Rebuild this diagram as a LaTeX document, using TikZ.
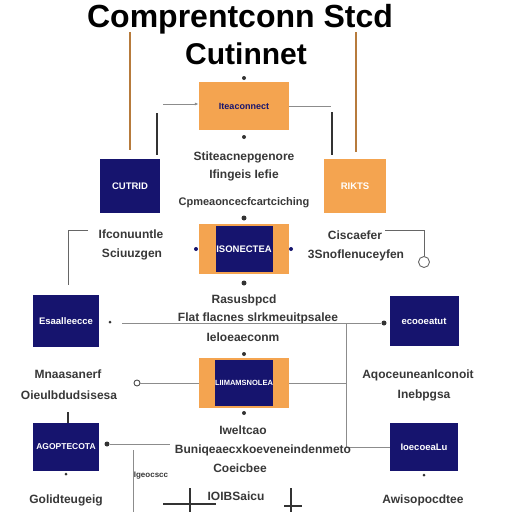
\documentclass[tikz,border=0pt]{standalone}
\usepackage{fontspec}
\setmainfont{Liberation Sans}
\usetikzlibrary{arrows.meta}
\definecolor{navy}{RGB}{22,20,110}
\definecolor{amber}{RGB}{244,164,80}
\tikzset{
  navybox/.style={draw=none, fill=navy, minimum width=#1, minimum height=52pt, inner sep=0pt,
    text=white, font=\fontsize{9.5}{10}\selectfont\bfseries},
  navybox/.default=64pt,
  amberbox/.style={draw=none, fill=amber, minimum width=90pt, minimum height=48pt, inner sep=0pt,
    text=navy, font=\fontsize{9}{10}\selectfont\bfseries},
  label/.style={font=\fontsize{12}{13}\selectfont\bfseries, text=black!78, inner sep=0pt},
  wire/.style={draw=black!45, line width=0.8pt},
  post/.style={draw=black!80, line width=1.6pt},
  blob/.style={circle, fill=black!80, inner sep=0pt, minimum size=5pt}
}
\begin{document}
\begin{tikzpicture}[x=1pt, y=-1pt]
  \useasboundingbox[fill=white] (0,0) rectangle (512,512);

  % title
  \node[font=\fontsize{32}{36}\selectfont\bfseries] (title) at (240,19) {Comprentconn Stcd};
  \node[font=\fontsize{30}{32}\selectfont\bfseries] (subtitle) at (246,54) {Cutinnet};

  % orange feeds from the title
  \coordinate (feedL) at (130,32); \coordinate (feedR) at (356,32);
  \draw[amber!75!black, line width=1.8pt] (feedL) -- (130,150);
  \draw[amber!75!black, line width=1.8pt] (feedR) -- (356,152);

  % top row
  \node[amberbox] (core) at (244,106) {Iteaconnect};
  \node[navybox=60pt, minimum height=54pt] (cutrid) at (130,186) {CUTRID};
  \node[navybox=62pt, minimum height=54pt, fill=amber] (rikts) at (355,186) {RIKTS};
  \node[blob, minimum size=4pt] (coretop) at (244,78) {};
  \node[blob, minimum size=4pt] (corebot) at (244,137) {};
  \coordinate (coreinL) at (163,104); \coordinate (coreoutR) at (331,106);
  \draw[wire, -{Latex[length=4pt]}] (coreinL) -- (core.west |- coreinL);
  \draw[wire] (core.east |- coreoutR) -- (coreoutR);
  \draw[post] (157,113) -- (157,155);
  \draw[post] (332,112) -- (332,155);
  \node[label] (t1) at (244,157) {Stiteacnepgenore};
  \node[label] (t2) at (244,175) {Ifingeis Iefie};
  \node[label, font=\fontsize{11}{12}\selectfont\bfseries] (t3) at (244,203) {Cpmeaoncecfcartciching};

  % middle row
  \node[amberbox, minimum height=50pt] (hub) at (244,249) {};
  \node[navybox=57pt, minimum height=46pt] (hubin) at (244,249) {ISONECTEA};
  \node[blob] (hubtop) at (244,218) {};
  \node[blob] (hubbot) at (244,283) {};
  \node[blob, fill=navy, minimum size=4pt] (hubL) at (196,249) {};
  \node[blob, fill=navy, minimum size=4pt] (hubR) at (291,249) {};
  \node[label] (t4) at (131,234) {Ifconuuntle};
  \node[label] (t5) at (132,254) {Sciuuzgen};
  \node[label] (t6) at (355,235) {Ciscaefer};
  \node[label] (t7) at (356,255) {3Snoflenuceyfen};
  \node[circle, draw=black!60, line width=0.9pt, inner sep=0pt, minimum size=11pt] (ring) at (424,262) {};
  \draw[wire, black!60] (385,230) -| (ring.north);
  \coordinate (elbowL) at (88,230);
  \draw[wire, black!60] (elbowL) -| (68,285);

  % second row of boxes
  \node[navybox=66pt, minimum height=52pt] (esaal) at (66,321) {Esaalleecce};
  \node[navybox=69pt, minimum height=50pt] (ecoo) at (424,321) {ecooeatut};
  \node[label] (t8) at (244,300) {Rasusbpcd};
  \node[label] (t9) at (258,318) {Flat flacnes slrkmeuitpsalee};
  \node[label] (t10) at (243,337) {Ieloeaeconm};
  \node[blob] (dotR) at (384,323) {};
  \node[blob, minimum size=3pt] (dotL) at (110,322) {};
  \draw[wire] (122,323) -- (dotR);
  \coordinate (busTop) at (346,323); \coordinate (busBot) at (346,447);
  \draw[wire] (busTop) -- (busBot);

  % third row
  \node[amberbox, minimum height=50pt] (gate) at (244,383) {};
  \node[navybox=57pt, minimum height=46pt, font=\fontsize{7.5}{8}\selectfont\bfseries] (gatein) at (244,383) {LIIMAMSNOLEA};
  \node[blob, minimum size=4pt] (gatetop) at (244,354) {};
  \node[blob, minimum size=4pt] (gatebot) at (244,413) {};
  \node[label] (t11) at (68,374) {Mnaasanerf};
  \node[label] (t12) at (69,395) {Oieulbdudsisesa};
  \node[label] (t13) at (418,375) {Aqoceuneanlconoit};
  \node[label] (t14) at (424,395) {Inebpgsa};
  \node[circle, draw=black!70, line width=0.9pt, inner sep=0pt, minimum size=6pt] (plug) at (137,383) {};
  \draw[wire] (plug.east) -- (gate.west);
  \draw[wire] (gate.east) -- (346,383);
  \draw[post] (68,412) -- (68,423);

  % bottom row of boxes
  \node[navybox=66pt, minimum height=48pt, font=\fontsize{8.5}{9}\selectfont\bfseries] (agop) at (66,447) {AGOPTECOTA};
  \node[navybox=68pt, minimum height=48pt] (ioec) at (424,447) {IoecoeaLu};
  \node[blob] (dotB) at (107,444) {};
  \draw[wire] (dotB) -- (170,444);
  \draw[wire] (busBot) -- (ioec.west |- busBot);
  \node[label] (t15) at (243,430) {Iweltcao};
  \node[label] (t16) at (263,450) {Buniqeaecxkoeveneindenmeto};
  \node[label] (t17) at (240,468) {Coeicbee};
  \node[label] (t18) at (66,500) {Golidteugeig};
  \node[label] (t19) at (423,500) {Awisopocdtee};
  \node[label, font=\fontsize{8}{9}\selectfont\bfseries] (t20) at (151,476) {Igeocscc};
  \node[label] (t21) at (236,496) {IOIBSaicu};
  \draw[wire] (133,450) -- (133,512);
  \draw[post, line width=1.4pt] (190,488) -- (190,512);
  \draw[post, line width=1.2pt] (163,504) -- (216,504);
  \draw[post, line width=1.2pt] (291,488) -- (291,512);
  \draw[post, line width=1.2pt] (284,506) -- (302,506);
  \node[blob, minimum size=3pt] (tipL) at (66,474) {};
  \node[blob, minimum size=3pt] (tipR) at (424,475) {};
\end{tikzpicture}
\end{document}
